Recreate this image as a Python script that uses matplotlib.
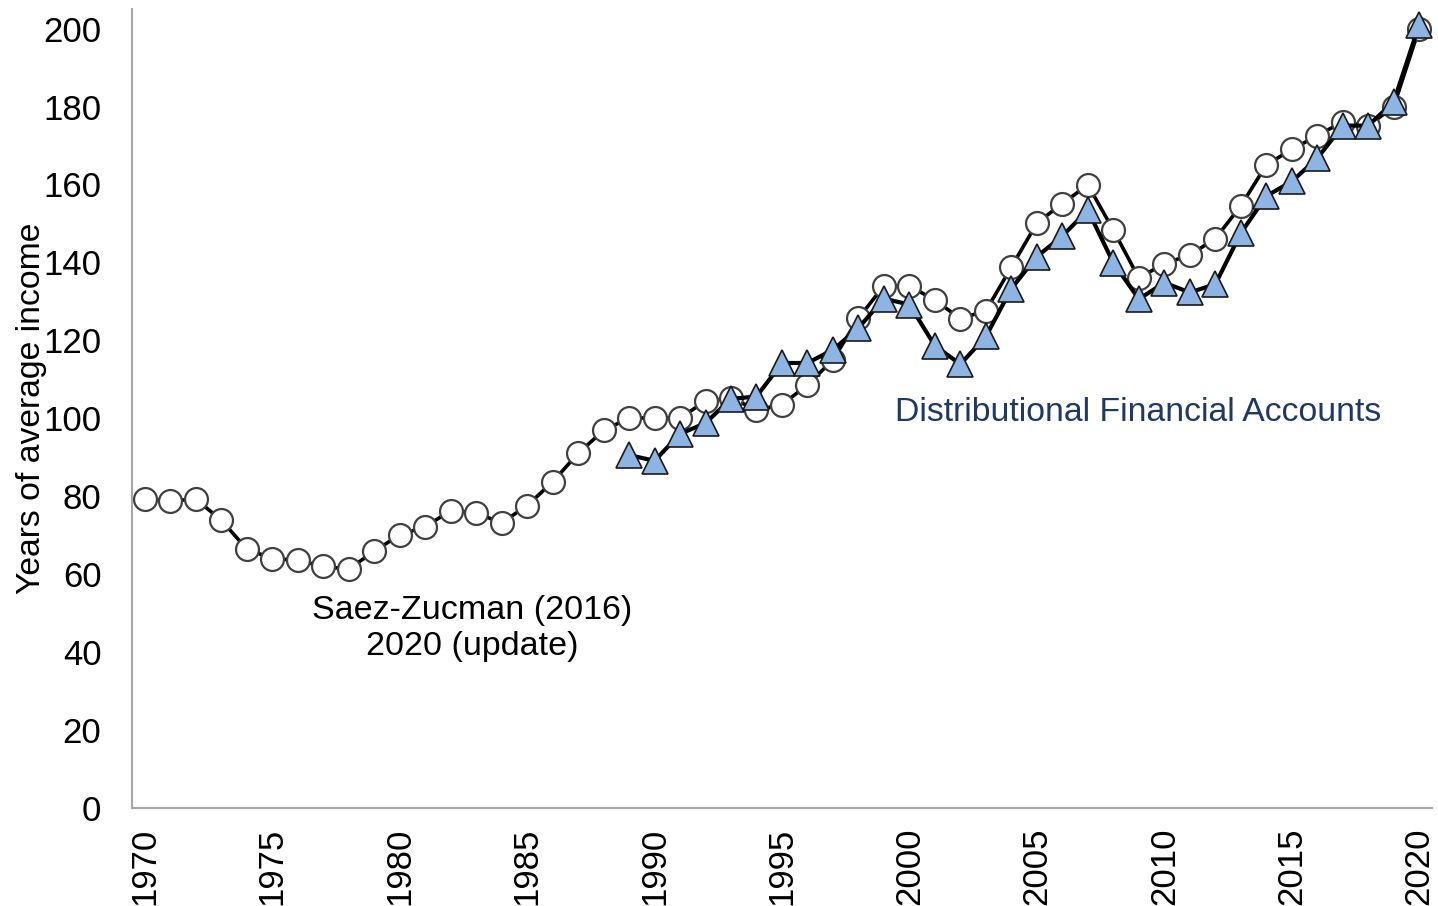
"""Top 0.1% wealth share chart: years of average income, two series."""
import matplotlib

matplotlib.use("Agg")
import matplotlib.pyplot as plt

plt.rcParams["font.family"] = ["Liberation Sans", "DejaVu Sans"]

SZ_YEARS = list(range(1970, 2021))
SZ_VALUES = [
    79.3, 78.8, 79.3, 73.9, 66.5, 64.0, 63.6, 62.0, 61.3, 65.9,
    70.1, 72.2, 76.3, 75.7, 73.2, 77.6, 83.7, 91.0, 96.9, 100.1,
    100.1, 100.1, 104.4, 105.2, 102.2, 103.5, 108.6, 115.0, 125.7, 134.0,
    134.0, 130.3, 125.6, 127.6, 138.8, 150.1, 155.1, 159.9, 148.3, 136.0,
    139.7, 141.9, 146.1, 154.5, 165.0, 169.0, 172.5, 176.1, 175.0, 180.0,
    200.0,
]

DFA_YEARS = list(range(1989, 2021))
DFA_VALUES = [
    90.6, 89.1, 96.0, 98.8, 105.0, 105.6, 114.2, 114.2, 117.6, 123.2,
    130.7, 129.2, 118.6, 113.9, 121.0, 133.3, 141.5, 146.8, 153.4, 139.9,
    130.6, 134.8, 132.3, 134.4, 147.5, 157.0, 160.8, 166.7, 175.1, 175.1,
    181.2, 201.0,
]

SZ_LABEL = "Saez-Zucman (2016)\n2020 (update)"
DFA_LABEL = "Distributional Financial Accounts"
Y_LABEL = "Years of average income"

AXIS_GRAY = "#A6A6A6"
TRIANGLE_FILL = "#8DB4E2"
DFA_TEXT = "#1F3864"


def main() -> None:
    fig = plt.figure(figsize=(14.38, 9.06), dpi=100)
    ax = fig.add_axes([0.0918, 0.108, 0.9040, 0.882])

    ax.plot(
        SZ_YEARS,
        SZ_VALUES,
        color="black",
        linewidth=2.6,
        marker="o",
        markersize=16.5,
        markerfacecolor="white",
        markeredgecolor="#404040",
        markeredgewidth=1.6,
        zorder=2,
    )
    ax.plot(
        DFA_YEARS,
        DFA_VALUES,
        color="black",
        linewidth=3.0,
        marker="^",
        markersize=18.5,
        markerfacecolor=TRIANGLE_FILL,
        markeredgecolor="#1a1a1a",
        markeredgewidth=1.2,
        zorder=3,
    )

    ax.text(1982.85, 46.0, SZ_LABEL, ha="center", va="center",
            multialignment="center", fontsize=24.5, color="black", linespacing=1.22)
    ax.text(2008.96, 101.5, DFA_LABEL, ha="center", va="center",
            fontsize=24.3, color=DFA_TEXT)

    ax.set_xlim(1969.5, 2020.5)
    ax.set_ylim(0, 205)
    ax.set_xticks(range(1970, 2021, 5))
    ax.set_yticks(range(0, 201, 20))
    ax.tick_params(axis="x", length=0, pad=14, labelsize=25, labelrotation=90)
    ax.tick_params(axis="y", length=0, pad=22, labelsize=25)
    ax.set_ylabel(Y_LABEL, fontsize=24.3, labelpad=-3)

    for side in ("top", "right"):
        ax.spines[side].set_visible(False)
    for side in ("left", "bottom"):
        ax.spines[side].set_color(AXIS_GRAY)
        ax.spines[side].set_linewidth(1.5)

    fig.savefig("out.png", dpi=100)
    plt.close(fig)


if __name__ == "__main__":
    main()
